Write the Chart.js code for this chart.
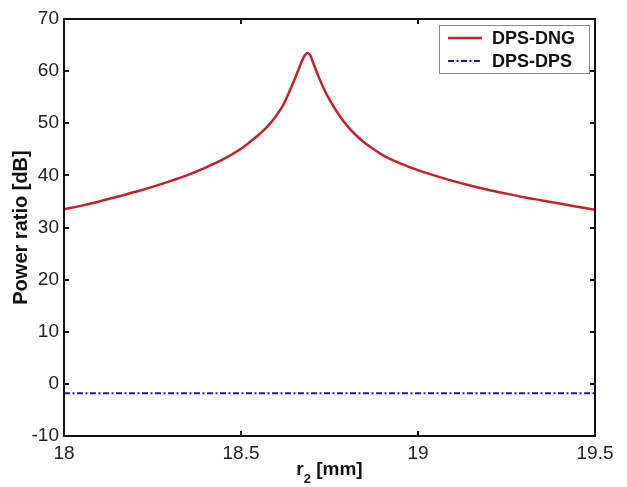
<!DOCTYPE html>
<html>
<head>
<meta charset="utf-8">
<script src="https://cdn.jsdelivr.net/npm/chart.js@4"></script>
<style>
  body { margin: 0; background: #fff; }
  canvas { display: block; }
</style>
</head>
<body>
<canvas id="ratioChart" width="627" height="487"></canvas>
<script>
// r2 sweep [mm] and power ratio [dB] for the two configurations
var rValues = [18.00, 18.05, 18.10, 18.15, 18.20, 18.25, 18.30, 18.35, 18.40, 18.45,
               18.50, 18.525, 18.55, 18.575, 18.60, 18.62, 18.64, 18.655, 18.67, 18.68,
               18.688, 18.695, 18.705, 18.72, 18.74, 18.76, 18.78, 18.80, 18.825, 18.85,
               18.875, 18.90, 18.95, 19.00, 19.05, 19.10, 19.15, 19.20, 19.25, 19.30,
               19.35, 19.40, 19.45, 19.50];
var dpsDng = [33.5, 34.2, 35.0, 35.9, 36.8, 37.8, 38.9, 40.1, 41.5, 43.1,
              45.1, 46.4, 47.8, 49.4, 51.5, 53.6, 56.6, 59.0, 61.6, 63.0,
              63.5, 63.1, 61.4, 58.8, 55.8, 53.4, 51.3, 49.5, 47.7, 46.2,
              45.0, 43.9, 42.3, 41.0, 39.9, 38.9, 38.0, 37.2, 36.5, 35.8,
              35.2, 34.6, 34.0, 33.4];
var dpsDpsR = [18.0, 19.5];
var dpsDps = [-1.8, -1.8];

var xTicks = [18, 18.5, 19, 19.5];
var yTicks = [-10, 0, 10, 20, 30, 40, 50, 60, 70];

var FONT = "Arial, 'Liberation Sans', Helvetica, sans-serif";

function toPoints(xs, ys) {
  return xs.map(function (x, i) { return { x: x, y: ys[i] }; });
}

// box around the axes with short inward tick marks on all four sides
var framePlugin = {
  id: 'frame',
  afterDraw: function (chart) {
    var ctx = chart.ctx, a = chart.chartArea;
    var xs = chart.scales.x, ys = chart.scales.y;
    var len = 5;
    ctx.save();
    ctx.strokeStyle = '#111';
    ctx.lineWidth = 2;
    ctx.beginPath();
    xTicks.forEach(function (v) {
      var px = Math.round(xs.getPixelForValue(v));
      ctx.moveTo(px, a.bottom); ctx.lineTo(px, a.bottom - len);
      ctx.moveTo(px, a.top); ctx.lineTo(px, a.top + len);
    });
    yTicks.forEach(function (v) {
      var py = Math.round(ys.getPixelForValue(v));
      ctx.moveTo(a.left, py); ctx.lineTo(a.left + len, py);
      ctx.moveTo(a.right, py); ctx.lineTo(a.right - len, py);
    });
    ctx.stroke();
    ctx.strokeRect(a.left, a.top, a.right - a.left, a.bottom - a.top);

    // x axis title with subscript
    var cx = (a.left + a.right) / 2, base = a.bottom + 39;
    var big = 'bold 19px ' + FONT, small = 'bold 13px ' + FONT;
    ctx.fillStyle = '#111';
    ctx.textBaseline = 'alphabetic';
    ctx.textAlign = 'left';
    ctx.font = big; var w1 = ctx.measureText('r').width;
    ctx.font = small; var w2 = ctx.measureText('2').width;
    ctx.font = big; var w3 = ctx.measureText(' [mm]').width;
    var x0 = cx - (w1 + w2 + w3) / 2;
    ctx.font = big; ctx.fillText('r', x0, base);
    ctx.font = small; ctx.fillText('2', x0 + w1, base + 8);
    ctx.font = big; ctx.fillText(' [mm]', x0 + w1 + w2, base);

    // legend box in the upper right corner
    var lx = a.right - 156, ly = a.top + 6, lw = 150, lh = 48;
    ctx.fillStyle = '#fff';
    ctx.fillRect(lx, ly, lw, lh);
    ctx.strokeStyle = '#8a8a8a';
    ctx.lineWidth = 1;
    ctx.strokeRect(lx + 0.5, ly + 0.5, lw, lh);
    chart.data.datasets.forEach(function (ds, i) {
      var ry = ly + 13 + i * 23;
      ctx.strokeStyle = ds.borderColor;
      ctx.lineWidth = ds.borderWidth;
      ctx.setLineDash(ds.borderDash || []);
      ctx.beginPath();
      ctx.moveTo(lx + 9, ry); ctx.lineTo(lx + 43, ry);
      ctx.stroke();
      ctx.setLineDash([]);
      ctx.fillStyle = '#111';
      ctx.font = 'bold 18px ' + FONT;
      ctx.textBaseline = 'middle';
      ctx.fillText(ds.label, lx + 53, ry + 1);
    });
    ctx.restore();
  }
};

var ctx = document.getElementById('ratioChart').getContext('2d');

var ratioChart = new Chart(ctx, {
  type: 'line',
  data: {
    datasets: [{
      label: 'DPS-DNG',
      data: toPoints(rValues, dpsDng),
      borderColor: '#c8202b',
      borderWidth: 2.5,
      pointRadius: 0,
      cubicInterpolationMode: 'monotone',
      fill: false
    }, {
      label: 'DPS-DPS',
      data: toPoints(dpsDpsR, dpsDps),
      borderColor: '#1c1c9c',
      borderWidth: 2,
      borderDash: [6, 2.5, 2, 2.5],
      pointRadius: 0,
      fill: false
    }]
  },
  options: {
    responsive: false,
    animation: false,
    devicePixelRatio: 1,
    layout: { padding: { left: 0, right: 32, top: 19, bottom: 0 } },
    plugins: {
      legend: { display: false },
      tooltip: { enabled: false }
    },
    scales: {
      x: {
        type: 'linear',
        min: 18,
        max: 19.5,
        afterBuildTicks: function (s) { s.ticks = xTicks.map(function (v) { return { value: v }; }); },
        afterFit: function (s) { s.height = 51; },
        grid: { display: false, drawTicks: false },
        border: { display: false },
        ticks: {
          padding: 6,
          color: '#222',
          font: { family: FONT, size: 19 },
          maxRotation: 0,
          callback: function (v) { return String(v); }
        }
      },
      y: {
        type: 'linear',
        min: -10,
        max: 70,
        afterBuildTicks: function (s) { s.ticks = yTicks.map(function (v) { return { value: v }; }); },
        afterFit: function (s) { s.width = 64; },
        grid: { display: false, drawTicks: false },
        border: { display: false },
        ticks: { padding: 5, color: '#222', font: { family: FONT, size: 19 } },
        title: {
          display: true,
          text: 'Power ratio [dB]',
          color: '#111',
          font: { family: FONT, size: 20, weight: 'bold' },
          padding: { top: 9, bottom: 0 }
        }
      }
    }
  },
  plugins: [framePlugin]
});
</script>
</body>
</html>
